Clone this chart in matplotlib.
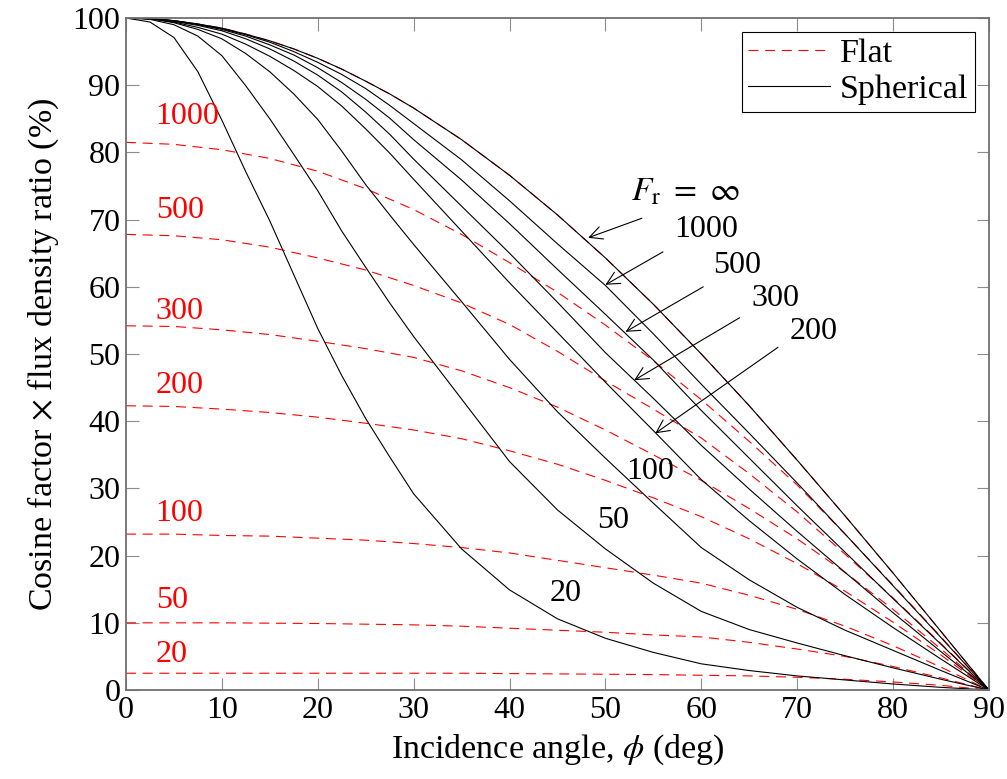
import matplotlib
matplotlib.use("Agg")
import matplotlib.pyplot as plt

# incidence angle grid for the spherical curves (deg)
phi_sph = [0, 2.5, 5, 7.5, 10, 12.5, 15, 17.5, 20, 22.5, 25, 27.5, 30,
           35, 40, 45, 50, 55, 60, 65, 70, 75, 80, 85, 90]

sph_inf = [100, 99.9, 99.6, 99.1, 98.5, 97.6, 96.6, 95.4, 94.0, 92.4, 90.6, 88.7, 86.6,
           81.9, 76.6, 70.7, 64.3, 57.4, 50.0, 42.3, 34.2, 25.9, 17.4, 8.7, 0]
sph_1000 = [100, 99.9, 99.6, 99.1, 98.4, 97.5, 96.4, 95.0, 93.4, 91.6, 89.5, 87.0, 84.3,
            78.9, 72.8, 66.4, 60.2, 53.0, 45.5, 38.2, 30.8, 23.2, 15.5, 7.8, 0]
sph_500 = [100, 99.9, 99.6, 99.0, 98.3, 97.3, 96.0, 94.5, 92.6, 90.4, 87.9, 85.1, 81.9,
           75.9, 69.4, 62.6, 55.9, 49.1, 41.6, 34.5, 27.4, 20.5, 13.6, 6.8, 0]
sph_300 = [100, 99.9, 99.5, 98.9, 98.1, 96.9, 95.4, 93.6, 91.5, 89.0, 86.0, 82.7, 79.0,
           72.0, 65.0, 57.7, 50.2, 43.4, 36.4, 29.9, 23.6, 17.5, 11.5, 5.7, 0]
sph_200 = [100, 99.9, 99.4, 98.6, 97.6, 96.1, 94.3, 92.2, 89.8, 86.9, 83.5, 79.9, 76.0,
           68.3, 60.6, 53.2, 45.8, 38.6, 31.3, 25.2, 19.5, 14.2, 9.3, 4.6, 0]
sph_100 = [100, 99.9, 99.3, 98.3, 96.9, 94.7, 92.0, 88.7, 84.9, 80.2, 75.2, 70.7, 66.3,
           57.8, 49.2, 41.4, 34.5, 27.8, 21.2, 16.4, 12.3, 8.9, 5.9, 2.9, 0]
sph_50 = [100, 99.8, 99.0, 97.3, 94.4, 89.9, 85.0, 79.7, 74.3, 68.3, 62.9, 57.6, 52.6,
          43.3, 34.0, 26.8, 21.0, 15.9, 11.7, 9.0, 7.0, 5.1, 3.3, 1.6, 0]
sph_20 = [100, 99.4, 97.1, 92.0, 84.8, 77.1, 69.8, 61.8, 53.8, 46.8, 40.4, 34.7, 29.2,
          21.0, 14.9, 10.6, 7.7, 5.6, 3.9, 2.9, 2.1, 1.5, 0.9, 0.4, 0]

# flat surface curves
phi_flat = [0, 5, 10, 15, 20, 25, 30, 35, 40, 45, 50, 55, 60, 65, 70, 75, 80, 85, 90]
flat_1000 = [81.5, 81.2, 80.4, 79.1, 77.2, 74.6, 71.5, 67.8, 63.6, 59.2, 54.3, 49.0,
             43.2, 37.0, 30.5, 23.2, 15.6, 7.9, 0]
flat_500 = [67.8, 67.6, 67.0, 65.9, 64.3, 62.5, 60.2, 57.6, 54.4, 50.4, 46.0, 41.8,
            37.5, 32.2, 26.5, 20.2, 13.7, 6.9, 0]
flat_300 = [54.2, 54.1, 53.6, 52.9, 51.9, 50.8, 49.5, 47.5, 45.0, 42.1, 38.7, 35.0,
            31.2, 27.0, 22.5, 17.5, 12.0, 6.1, 0]
flat_200 = [42.3, 42.2, 41.8, 41.3, 40.6, 39.7, 38.7, 37.4, 35.6, 33.6, 31.2, 28.6,
            25.8, 22.5, 18.8, 14.7, 10.1, 5.2, 0]
flat_100 = [23.2, 23.2, 23.0, 22.9, 22.6, 22.3, 21.8, 21.2, 20.4, 19.3, 18.2, 17.1,
            15.9, 14.1, 12.0, 9.5, 6.6, 3.4, 0]
flat_50 = [10.0, 10.0, 10.0, 9.95, 9.9, 9.8, 9.7, 9.5, 9.2, 8.9, 8.6, 8.2,
           7.9, 7.1, 6.1, 5.0, 3.5, 1.8, 0]
flat_20 = [2.5, 2.5, 2.5, 2.5, 2.5, 2.5, 2.5, 2.5, 2.45, 2.4, 2.35, 2.3,
           2.2, 2.1, 1.9, 1.6, 1.2, 0.7, 0]

flat_labels = ["1000", "500", "300", "200", "100", "50", "20"]
sph_labels = ["1000", "500", "300", "200", "100", "50", "20"]

plt.rcParams["font.family"] = ["Liberation Serif", "DejaVu Serif"]
plt.rcParams["mathtext.fontset"] = "stix"
plt.rcParams["font.size"] = 23

fig = plt.figure(figsize=(10.07, 7.79), dpi=100)
ax = fig.add_axes([0.1251, 0.1142, 0.8570, 0.8627])

dash = (0, (9, 6))
lw = 0.8
ax.plot(phi_sph, sph_inf, color="red", lw=lw, ls=dash)
flats = [flat_1000, flat_500, flat_300, flat_200, flat_100, flat_50, flat_20]
flat_lab_y = [85.3, 71.3, 56.3, 45.3, 26.2, 13.3, 5.3]
for i, f in enumerate(flats):
    ax.plot(phi_flat, f, color="red", lw=lw, ls=dash,
            label="Flat" if i == 0 else None)
    ax.text(3.1, flat_lab_y[i], flat_labels[i], color="red", va="center", ha="left")

sphs = [sph_inf, sph_1000, sph_500, sph_300, sph_200, sph_100, sph_50, sph_20]
for i, s in enumerate(sphs):
    ax.plot(phi_sph, s, color="black", lw=lw,
            label="Spherical" if i == 0 else None)

# curve labels with arrows
ax.text(58.3, 74.0, r"$F_{\mathrm{r}}\ =\ \infty$", ha="center", va="center",
        fontsize=24)
arrows = [(53.8, 70.2, 48.2, 67.3), (56.0, 65.2, 50.0, 60.3), (60.2, 60.0, 52.1, 53.3),
          (64.0, 55.4, 53.0, 46.1), (68.0, 51.0, 55.2, 38.2)]
for x0, y0, x1, y1 in arrows:
    ax.annotate("", xy=(x1, y1), xytext=(x0, y0),
                arrowprops=dict(arrowstyle="->", color="black", lw=0.8,
                                shrinkA=0, shrinkB=0))
lab_pos = [(60.5, 68.5), (63.7, 63.2), (67.7, 58.3), (71.7, 53.3),
           (54.7, 32.5), (50.8, 25.3), (45.9, 14.4)]
for (x, y), t in zip(lab_pos, sph_labels):
    ax.text(x, y, t, ha="center", va="center")

ax.set_xlim(0, 90)
ax.set_ylim(0, 100)
ax.set_xticks(range(0, 91, 10))
ax.set_yticks(range(0, 101, 10))
ax.tick_params(direction="in", length=9, color="#8c8c8c", top=True, right=True,
               pad=4)
for sp in ax.spines.values():
    sp.set_color("#707070")
    sp.set_linewidth(1.3)
ax.set_xlabel(r"Incidence angle, $\phi$ (deg)", labelpad=6, fontsize=24.5)
ax.set_ylabel(r"Cosine factor $\times$ flux density ratio (%)", labelpad=8,
              fontsize=24.5)

leg = ax.legend(loc="upper right", handlelength=2.4, handletextpad=0.3,
                borderpad=0.2, labelspacing=0.15, fancybox=False,
                framealpha=1, edgecolor="black", borderaxespad=0.4,
                fontsize=24.5)
leg.get_frame().set_linewidth(0.8)

fig.savefig("out.png", dpi=100)
